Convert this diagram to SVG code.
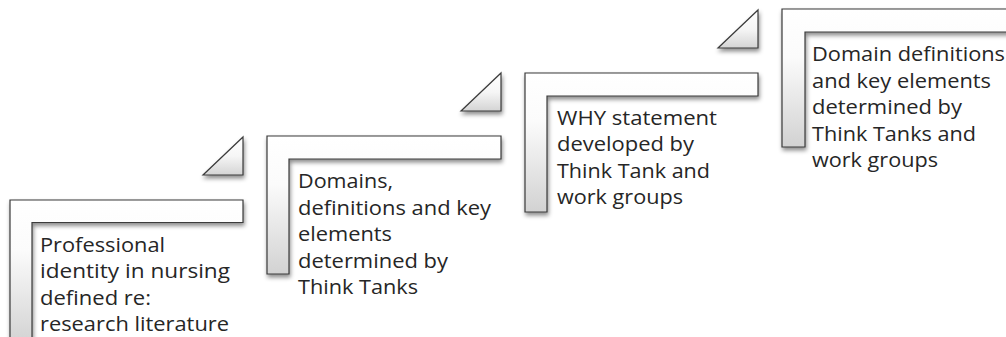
<svg xmlns="http://www.w3.org/2000/svg" width="1006" height="337" viewBox="0 0 1006 337">
  <style>
    .step { fill: url(#stepGrad); stroke: #3a3a3a; stroke-width: 1.2; filter: url(#shadow); }
    .tri { fill: url(#triGrad); stroke: #3a3a3a; stroke-width: 1.2; filter: url(#shadow); stroke-linejoin: miter; }
    .label { font-family: "Open Sans", "Noto Sans", "Liberation Sans", sans-serif; font-size: 20px; fill: #262626; }
  </style>
  <defs>
    <linearGradient id="stepGrad" x1="0" y1="0" x2="0" y2="1">
      <stop offset="0" stop-color="#ffffff"/>
      <stop offset="0.35" stop-color="#fbfbfb"/>
      <stop offset="1" stop-color="#d2d2d2"/>
    </linearGradient>
    <linearGradient id="triGrad" x1="0" y1="0" x2="0" y2="1">
      <stop offset="0" stop-color="#ffffff"/>
      <stop offset="0.5" stop-color="#f6f6f6"/>
      <stop offset="1" stop-color="#d4d4d4"/>
    </linearGradient>
    <filter id="shadow" x="-10%" y="-10%" width="130%" height="140%">
      <feDropShadow dx="1" dy="3" stdDeviation="2" flood-color="#000" flood-opacity="0.45"/>
    </filter>
  </defs>

  <g id="connectors">
    <polygon class="tri" points="243,137 243,175 203,175"/>
    <polygon class="tri" points="501,73 501,111 461,111"/>
    <polygon class="tri" points="758,10 758,48 718,48"/>
  </g>

  <g id="step1">
    <path class="step" d="M10,200 H243 V222.5 H32 V345 H10 Z"/>
    <text class="label" lengthAdjust="spacingAndGlyphs">
      <tspan x="40" y="251.5" textLength="125" lengthAdjust="spacingAndGlyphs">Professional</tspan>
    </text>
    <text class="label" x="40" y="278" textLength="190" lengthAdjust="spacingAndGlyphs">identity in nursing</text>
    <text class="label" x="40" y="304.5" textLength="111" lengthAdjust="spacingAndGlyphs">defined re:</text>
    <text class="label" x="40" y="331" textLength="189" lengthAdjust="spacingAndGlyphs">research literature</text>
  </g>

  <g id="step2">
    <path class="step" d="M267,136 H501 V159 H289 V274 H267 Z"/>
    <text class="label" x="298" y="188" textLength="95" lengthAdjust="spacingAndGlyphs">Domains,</text>
    <text class="label" x="298" y="214.5" textLength="193" lengthAdjust="spacingAndGlyphs">definitions and key</text>
    <text class="label" x="298" y="241" textLength="94" lengthAdjust="spacingAndGlyphs">elements</text>
    <text class="label" x="298" y="267.5" textLength="150" lengthAdjust="spacingAndGlyphs">determined by</text>
    <text class="label" x="298" y="294" textLength="120" lengthAdjust="spacingAndGlyphs">Think Tanks</text>
  </g>

  <g id="step3">
    <path class="step" d="M525,73 H758 V96 H547 V212 H525 Z"/>
    <text class="label" x="557" y="124.5" textLength="160" lengthAdjust="spacingAndGlyphs">WHY statement</text>
    <text class="label" x="557" y="151" textLength="137" lengthAdjust="spacingAndGlyphs">developed by</text>
    <text class="label" x="557" y="177.5" textLength="153" lengthAdjust="spacingAndGlyphs">Think Tank and</text>
    <text class="label" x="557" y="204" textLength="126" lengthAdjust="spacingAndGlyphs">work groups</text>
  </g>

  <g id="step4">
    <path class="step" d="M782,9 H1015 V32 H805 V147 H782 Z"/>
    <text class="label" x="812" y="61" textLength="193" lengthAdjust="spacingAndGlyphs">Domain definitions</text>
    <text class="label" x="812" y="87.5" textLength="179" lengthAdjust="spacingAndGlyphs">and key elements</text>
    <text class="label" x="812" y="114" textLength="150" lengthAdjust="spacingAndGlyphs">determined by</text>
    <text class="label" x="812" y="140.5" textLength="164" lengthAdjust="spacingAndGlyphs">Think Tanks and</text>
    <text class="label" x="812" y="167" textLength="126" lengthAdjust="spacingAndGlyphs">work groups</text>
  </g>
</svg>
